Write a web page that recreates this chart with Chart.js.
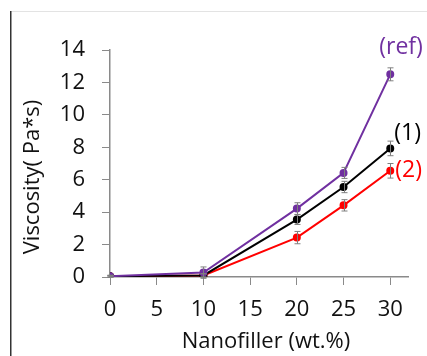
<!DOCTYPE html>
<html><head><meta charset="utf-8">
<script src="https://cdn.jsdelivr.net/npm/chart.js@4/dist/chart.umd.min.js"></script>
<style>html,body{margin:0;padding:0;background:#fff}#wrap{position:relative;width:427px;height:356px}</style>
</head><body><div id="wrap"><canvas id="c" width="427" height="356"></canvas></div>
<script>
const xValues = [0, 10, 20, 25, 30];
const refValues = [0.05, 0.27, 4.22, 6.42, 12.5];
const s1Values = [0.05, 0.1, 3.54, 5.55, 7.93];
const s2Values = [0.05, 0.1, 2.43, 4.42, 6.55];
const refErr = [0.05, 0.35, 0.36, 0.34, 0.4];
const s1Err = [0.05, 0.1, 0.3, 0.35, 0.45];
const s2Err = [0.05, 0.1, 0.38, 0.35, 0.45];
const seriesLabels = ['(ref)', '(1)', '(2)'];
const xTicks = [0, 5, 10, 15, 20, 25, 30];
const FONT = '"Open Sans", Lato, sans-serif';
const colors = ['#7030A0', '#000000', '#FF0000'];
const errs = [refErr, s1Err, s2Err];

function pts(vals){ return xValues.map((x,i)=>({x:x,y:vals[i]})); }

const errorBars = {
  id:'errorBars',
  afterDatasetsDraw(chart){
    const ctx = chart.ctx, xs = chart.scales.x, ys = chart.scales.y;
    ctx.save();
    ctx.strokeStyle = '#7f7f7f'; ctx.lineWidth = 1;
    chart.data.datasets.forEach((ds, di)=>{
      ds.data.forEach((p, i)=>{
        const e = errs[di][i];
        const px = Math.round(xs.getPixelForValue(p.x)) + 0.5;
        const top = ys.getPixelForValue(p.y + e), bot = ys.getPixelForValue(p.y - e);
        ctx.beginPath();
        ctx.moveTo(px, top); ctx.lineTo(px, bot);
        ctx.moveTo(px-3, top); ctx.lineTo(px+3, top);
        ctx.moveTo(px-3, bot); ctx.lineTo(px+3, bot);
        ctx.stroke();
      });
    });
    ctx.restore();
  }
};

const labelsPlugin = {
  id:'labelsPlugin',
  afterDraw(chart){
    const ctx = chart.ctx, xs = chart.scales.x, ys = chart.scales.y;
    ctx.save();
    ctx.strokeStyle = '#e3e3e3'; ctx.lineWidth = 1;
    ctx.beginPath(); ctx.moveTo(10, 11.5); ctx.lineTo(427, 11.5); ctx.stroke();
    ctx.strokeStyle = '#333'; ctx.lineWidth = 1.5;
    ctx.beginPath(); ctx.moveTo(10.75, 11); ctx.lineTo(10.75, 356); ctx.stroke();
    ctx.font = '23px ' + FONT;
    ctx.textBaseline = 'middle'; ctx.textAlign = 'left';
    const offs = [[-11,-27],[4,-15],[5,0]];
    chart.data.datasets.forEach((ds, di)=>{
      const last = ds.data[ds.data.length-1];
      const px = xs.getPixelForValue(last.x), py = ys.getPixelForValue(last.y);
      ctx.fillStyle = colors[di];
      ctx.fillText(seriesLabels[di], px + offs[di][0], py + offs[di][1]);
    });
    ctx.fillStyle = '#111';
    ctx.font = '22px ' + FONT;
    ctx.textAlign = 'center';
    ctx.fillText('Nanofiller (wt.%)', 266, 342);
    ctx.translate(33, 177);
    ctx.rotate(-Math.PI/2);
    ctx.fillText('Viscosity( Pa*s)', 0, 0);
    ctx.restore();
  }
};

new Chart(document.getElementById('c'), {
  type:'line',
  data:{
    datasets:[
      {label:seriesLabels[0], data:pts(refValues), borderColor:colors[0], backgroundColor:colors[0], borderWidth:2, pointRadius:3, tension:0},
      {label:seriesLabels[1], data:pts(s1Values), borderColor:colors[1], backgroundColor:colors[1], borderWidth:2, pointRadius:3, tension:0},
      {label:seriesLabels[2], data:pts(s2Values), borderColor:colors[2], backgroundColor:colors[2], borderWidth:2, pointRadius:3, tension:0}
    ]
  },
  options:{
    responsive:false, animation:false,
    layout:{padding:{left:10, right:19, top:50, bottom:0}},
    plugins:{legend:{display:false}, tooltip:{enabled:false}},
    scales:{
      x:{type:'linear', min:0, max:31.9,
        afterBuildTicks(s){ s.ticks = xTicks.map(v=>({value:v})); },
        afterFit(s){ s.height = 79; },
        border:{color:'#8a8a8a', width:1.5},
        grid:{drawOnChartArea:false, drawTicks:true, tickLength:8, color:'#8a8a8a'},
        ticks:{padding:12, color:'#111', font:{family:FONT, size:22}, maxRotation:0, autoSkip:false}
      },
      y:{min:0, max:14,
        afterFit(s){ s.width = 100; },
        border:{color:'#8a8a8a', width:1.5},
        grid:{drawOnChartArea:false, drawTicks:true, tickLength:8, color:'#8a8a8a'},
        ticks:{stepSize:2, padding:17, color:'#111', font:{family:FONT, size:22}}
      }
    }
  },
  plugins:[errorBars, labelsPlugin]
});
</script></body></html>
